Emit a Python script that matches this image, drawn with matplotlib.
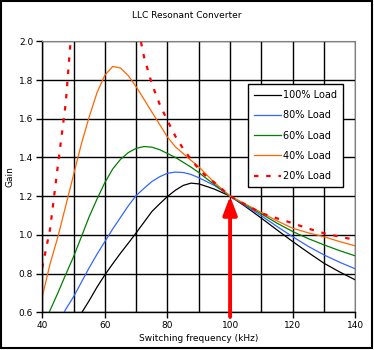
import numpy as np
import matplotlib
matplotlib.use('Agg')
import matplotlib.pyplot as plt
from matplotlib.patches import Rectangle

# switching frequency (kHz)
freq = [40, 42.5, 45, 47.5, 50, 52.5, 55, 57.5, 60, 62.5, 65, 67.5, 70, 72.5, 75,
        77.5, 80, 82.5, 85, 87.5, 90, 92.5, 95, 97.5, 100, 105, 110, 115, 120, 125,
        130, 135, 140]

# gain for each load
gain_100 = [0.30, 0.35, 0.41, 0.47, 0.53, 0.595, 0.66, 0.73, 0.793, 0.85, 0.905, 0.957,
            1.01, 1.065, 1.12, 1.16, 1.198, 1.23, 1.255, 1.267, 1.263, 1.25, 1.236, 1.218,
            1.20, 1.145, 1.086, 1.025, 0.965, 0.908, 0.853, 0.808, 0.767]
gain_80 = [0.38, 0.46, 0.54, 0.615, 0.68, 0.755, 0.83, 0.90, 0.965, 1.03, 1.09, 1.15,
           1.203, 1.24, 1.275, 1.30, 1.318, 1.324, 1.322, 1.312, 1.295, 1.275, 1.255, 1.228,
           1.20, 1.15, 1.098, 1.043, 0.99, 0.94, 0.896, 0.858, 0.824]
gain_60 = [0.52, 0.61, 0.70, 0.795, 0.887, 0.99, 1.094, 1.185, 1.27, 1.34, 1.39, 1.425,
           1.447, 1.456, 1.453, 1.44, 1.42, 1.40, 1.375, 1.35, 1.322, 1.29, 1.26, 1.23,
           1.20, 1.155, 1.108, 1.06, 1.017, 0.98, 0.948, 0.918, 0.891]
gain_40 = [0.68, 0.85, 0.99, 1.15, 1.31, 1.47, 1.61, 1.735, 1.825, 1.87, 1.862, 1.822,
           1.765, 1.70, 1.635, 1.57, 1.505, 1.455, 1.42, 1.385, 1.352, 1.31, 1.27, 1.235,
           1.20, 1.158, 1.115, 1.072, 1.034, 1.01, 0.99, 0.965, 0.943]
nan = np.nan
gain_20 = [0.83, 1.03, 1.36, 1.68, 2.2, nan, nan, nan, nan, nan, nan, nan,
           2.12, 1.92, 1.78, 1.675, 1.59, 1.51, 1.445, 1.39, 1.34, 1.30, 1.27, 1.235,
           1.20, 1.155, 1.112, 1.085, 1.06, 1.032, 1.008, 0.99, 0.974]

plt.rcParams['font.family'] = 'DejaVu Sans'

fig = plt.figure(figsize=(3.74, 3.5), dpi=100)
ax = fig.add_axes([0.113, 0.108, 0.837, 0.774])

ax.plot(freq, gain_100, color='black', lw=0.9, label='100% Load')
ax.plot(freq, gain_80, color='#3366ff', lw=0.9, label='80% Load')
ax.plot(freq, gain_60, color='green', lw=0.9, label='60% Load')
ax.plot(freq, gain_40, color='#ff6600', lw=0.9, label='40% Load')
ax.plot(freq, gain_20, color='red', lw=1.6, ls=(0, (2, 3.5)), label='20% Load')

# resonance marker
ax.annotate('', xy=(100, 1.2), xytext=(100, 0.576),
            arrowprops=dict(arrowstyle='-|>,head_length=1.1,head_width=0.42',
                            color='red', lw=2.8, shrinkA=0, shrinkB=0),
            annotation_clip=False)

ax.set_xlim(40, 140)
ax.set_ylim(0.6, 2.0)
ax.set_xticks(np.arange(40, 141, 20))
ax.set_xticks(np.arange(40, 141, 10), minor=True)
ax.set_yticks(np.arange(0.6, 2.01, 0.2))
ax.yaxis.set_major_formatter(matplotlib.ticker.FormatStrFormatter('%.1f'))
ax.grid(True, which='both', color='black', lw=1.0)
ax.tick_params(which='major', direction='out', length=4, width=1, labelsize=6.5, pad=2.5)
ax.tick_params(which='minor', length=0)
for s in ['top', 'right']:
    ax.spines[s].set_color('#808080')
for s in ['left', 'bottom']:
    ax.spines[s].set_color('black')
    ax.spines[s].set_linewidth(1.0)

ax.set_xlabel('Switching frequency (kHz)', fontsize=6.5, labelpad=3)
ax.set_ylabel('Gain', fontsize=6.5, labelpad=3)
fig.text(0.5, 1 - 15 / 350, 'LLC Resonant Converter', ha='center', va='center', fontsize=6.5)

leg = ax.legend(loc='upper left', bbox_to_anchor=(0.658, 0.841), borderaxespad=0,
                fontsize=7, handlelength=2.8, handletextpad=0.2, labelspacing=1.05,
                fancybox=False, framealpha=1, edgecolor='black', borderpad=0.6)
leg.get_frame().set_linewidth(1.0)

fig.patches.append(Rectangle((0.003, 0.006), 0.992, 0.99, transform=fig.transFigure,
                             fill=False, edgecolor='black', lw=1.5))

fig.savefig('out.png', dpi=100)
